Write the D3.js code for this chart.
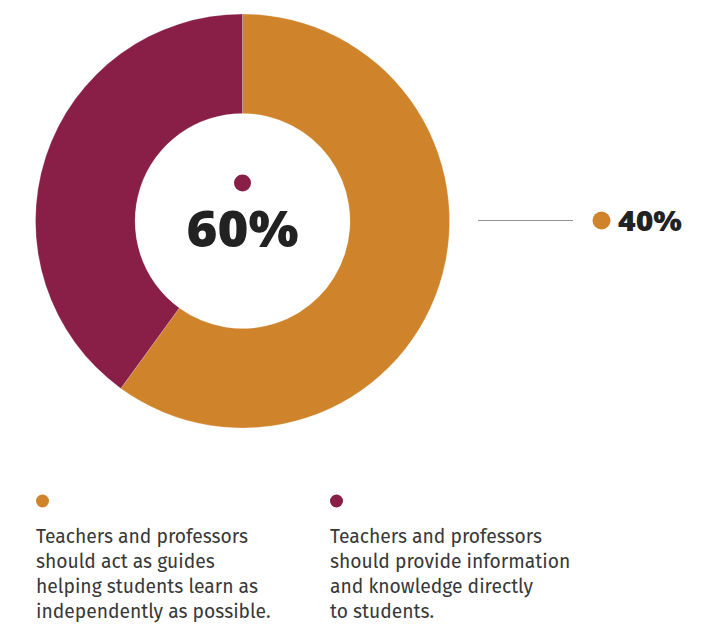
<!DOCTYPE html>
<html>
<head>
<meta charset="utf-8">
<script src="https://cdn.jsdelivr.net/npm/d3@7"></script>
<style>
  html, body { margin: 0; padding: 0; background: #fff; }
  svg { display: block; }
</style>
</head>
<body>
<svg id="chart" width="720" height="627"></svg>
<script>
// Survey answers and their shares
const categories = [
  "Teachers and professors should act as guides helping students learn as independently as possible.",
  "Teachers and professors should provide information and knowledge directly to students."
];
const values = [60, 40];
const colors = ["#CF832A", "#891E47"];
const legendLines = [
  ["Teachers and professors", "should act as guides", "helping students learn as", "independently as possible."],
  ["Teachers and professors", "should provide information", "and knowledge directly", "to students."]
];

const svg = d3.select("#chart");
const cx = 242.5, cy = 221, outerR = 207, innerR = 107.5;

const pie = d3.pie().sort(null).value(d => d);
const arc = d3.arc().innerRadius(innerR).outerRadius(outerR);
const arcs = pie(values);

const g = svg.append("g").attr("transform", `translate(${cx},${cy})`);
g.selectAll("path")
  .data(arcs)
  .join("path")
  .attr("d", arc)
  .attr("fill", (d, i) => colors[i])
  .attr("stroke", "rgba(255,255,255,0.35)")
  .attr("stroke-width", 0.6);

const fmt = v => `${v}%`;
const boldFont = "'Open Sans', 'Noto Sans', sans-serif";

// Centre label: the first slice's share
g.append("circle").attr("cx", 0).attr("cy", -38).attr("r", 8.5).attr("fill", colors[1]);
g.append("text")
  .attr("x", -56).attr("y", 26)
  .attr("font-family", boldFont)
  .attr("font-weight", 800)
  .attr("font-size", 49)
  .attr("textLength", 112)
  .attr("lengthAdjust", "spacingAndGlyphs")
  .attr("fill", "#222")
  .text(fmt(values[0]));

// Side callout: the second slice's share
svg.append("line")
  .attr("x1", 478).attr("x2", 573)
  .attr("y1", 220.5).attr("y2", 220.5)
  .attr("stroke", "#8f8f8f").attr("stroke-width", 1);
svg.append("circle").attr("cx", 601.5).attr("cy", 220.5).attr("r", 9).attr("fill", colors[0]);
svg.append("text")
  .attr("x", 618).attr("y", 230.5)
  .attr("font-family", boldFont)
  .attr("font-weight", 800)
  .attr("font-size", 28)
  .attr("textLength", 64)
  .attr("lengthAdjust", "spacingAndGlyphs")
  .attr("fill", "#222")
  .text(fmt(values[1]));

// Legend
const legendX = [36, 330];
legendLines.forEach((lines, i) => {
  const lg = svg.append("g").attr("transform", `translate(${legendX[i]},0)`);
  lg.append("circle").attr("cx", 6.5).attr("cy", 501).attr("r", 6.5).attr("fill", colors[i]);
  const t = lg.append("text")
    .attr("font-family", "'Fira Sans', 'Noto Sans', sans-serif")
    .attr("font-size", 19.3)
    .attr("font-weight", 400)
    .attr("fill", "#383838");
  lines.forEach((line, j) => {
    t.append("tspan").attr("x", 0).attr("y", 543 + j * 25).text(line);
  });
});
</script>
</body>
</html>
